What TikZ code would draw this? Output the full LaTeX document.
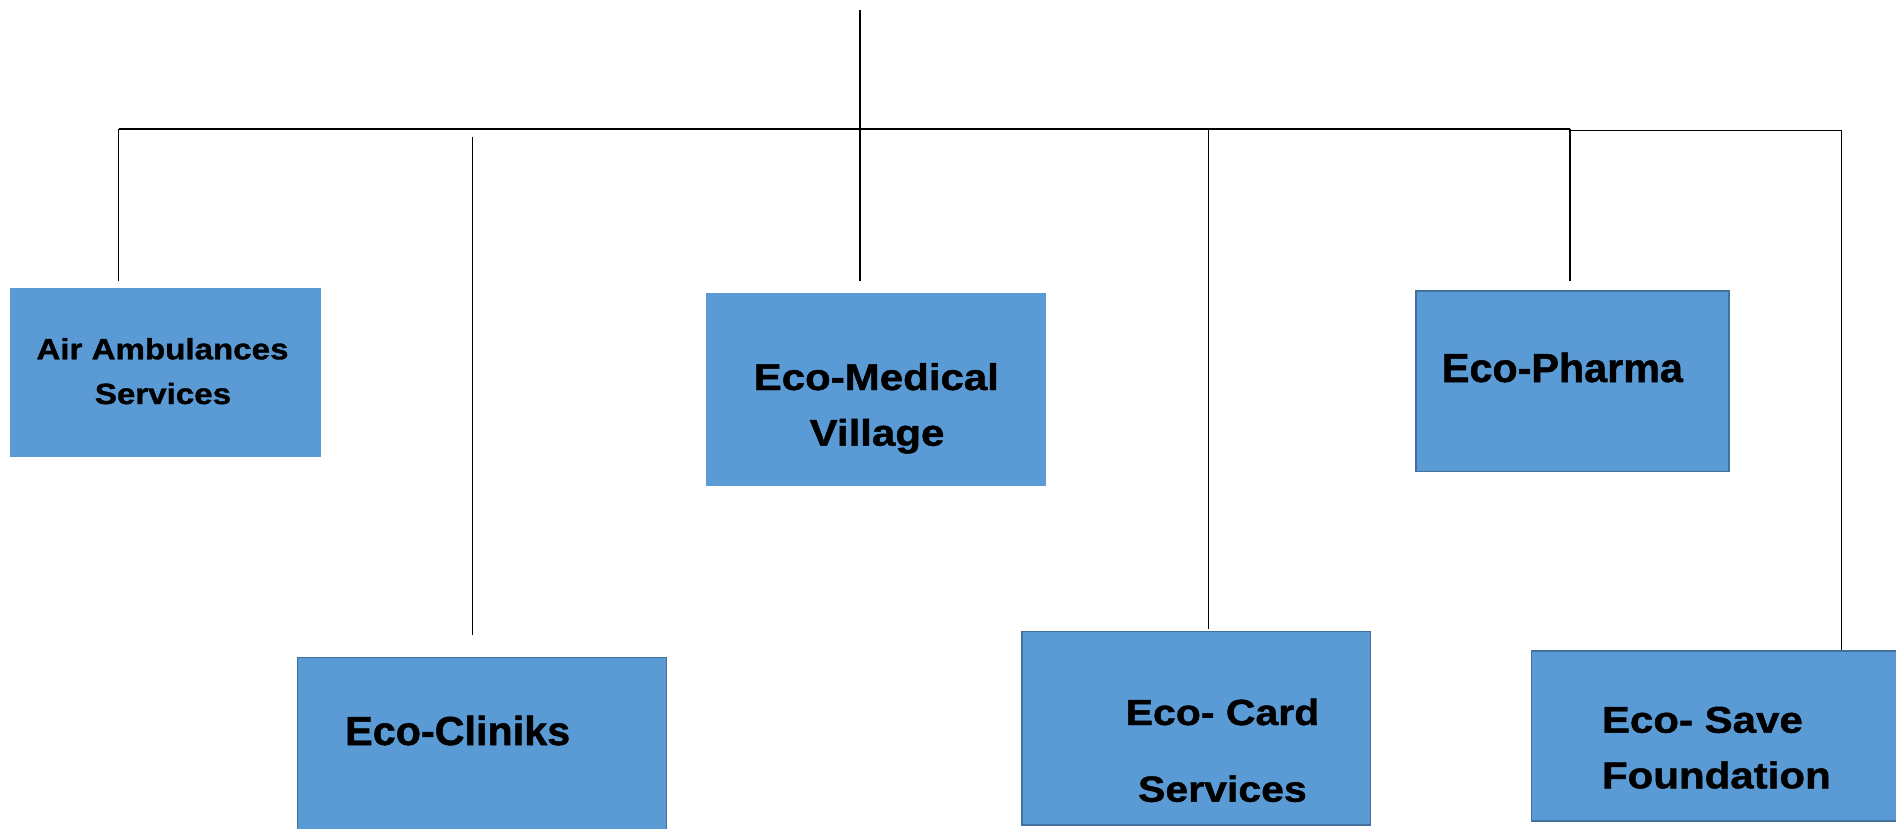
\documentclass[tikz,border=0pt]{standalone}
\usepackage{fontspec}
\setmainfont{Liberation Sans}
\newfontfamily\wfont[FakeStretch=1.13,BoldFeatures={FakeBold=1.2}]{Liberation Sans}
\newfontfamily\nfont[FakeStretch=1.02,BoldFeatures={FakeBold=1.2}]{Liberation Sans}
\definecolor{boxfill}{HTML}{5B9BD5}
\definecolor{boxline}{HTML}{41719C}
\begin{document}
\begin{tikzpicture}[x=1pt,y=-1pt,
  conn/.style={draw=black,line width=1.3pt},
  plainbox/.style={fill=boxfill,draw=none},
  edgebox/.style={fill=boxfill,draw=boxline,line width=1.5pt},
  lbl/.style={inner sep=0pt,anchor=base,text=black}]
\useasboundingbox (0,0) rectangle (1896,828);
% boxes
\node[plainbox,inner sep=0,minimum width=311pt,minimum height=169pt] (air) at (165.5,372.5) {};
\node[plainbox,inner sep=0,minimum width=340pt,minimum height=193.4pt] (med) at (876,389.3) {};
\node[edgebox,inner sep=0,minimum width=369pt,minimum height=185pt] (clin) at (482,750) {};
\node[edgebox,inner sep=0,minimum width=348.5pt,minimum height=193.5pt] (card) at (1196.3,728.3) {};
\node[edgebox,inner sep=0,minimum width=313pt,minimum height=180.7pt] (pharma) at (1572.5,381.3) {};
\node[edgebox,inner sep=0,minimum width=380pt,minimum height=170pt] (save) at (1721.5,736) {};
% texts
\node[lbl,font=\wfont\bfseries\fontsize{29.3}{32}\selectfont] (airT1) at (162.5,359.3) {Air Ambulances};
\node[lbl,font=\wfont\bfseries\fontsize{29.3}{32}\selectfont] (airT2) at (163,404) {Services};
\node[lbl,font=\nfont\bfseries\fontsize{40.5}{44}\selectfont,anchor=base west] (clinT) at (345,745) {Eco-Cliniks};
\node[lbl,font=\wfont\bfseries\fontsize{37.2}{40}\selectfont] (medT1) at (876.3,390) {Eco-Medical};
\node[lbl,font=\wfont\bfseries\fontsize{37.2}{40}\selectfont] (medT2) at (877,445.7) {Village};
\node[lbl,font=\nfont\bfseries\fontsize{40.5}{44}\selectfont,anchor=base west] (pharmaT) at (1441.7,382) {Eco-Pharma};
\node[lbl,font=\wfont\bfseries\fontsize{36.3}{40}\selectfont] (cardT1) at (1222.5,725) {Eco- Card};
\node[lbl,font=\wfont\bfseries\fontsize{36.3}{40}\selectfont] (cardT2) at (1222.4,801.7) {Services};
\node[lbl,font=\wfont\bfseries\fontsize{37.2}{40}\selectfont,anchor=base west] (saveT1) at (1601.7,732.7) {Eco- Save};
\node[lbl,font=\wfont\bfseries\fontsize{37.2}{40}\selectfont,anchor=base west] (saveT2) at (1601.7,788.3) {Foundation};
% connector coordinates
\coordinate (root) at (860,10);
\coordinate (j) at (860,129);
\coordinate (busL) at (118.5,129);
\coordinate (busM) at (1570,129);
\coordinate (busR) at (1841.5,130.5);
\coordinate (busM2) at (1570,130.5);
\coordinate (airTop) at (118.5,281);
\coordinate (clinA) at (472.8,136.6);
\coordinate (clinB) at (472.8,634.8);
\coordinate (medTop) at (860,281);
\coordinate (cardA) at (1208.5,129);
\coordinate (cardB) at (1208.5,629);
\coordinate (pharmaTop) at (1570,281);
% connectors
\draw[conn] (root) -- (j);
\draw[conn] (busL) -- (busM);
\draw[conn] (busM2) -- (busR);
\draw[conn] (busL) -- (airTop);
\draw[conn] (clinA) -- (clinB);
\draw[conn] (j) -- (medTop);
\draw[conn] (cardA) -- (cardB);
\draw[conn] (busM) -- (pharmaTop);
\draw[conn] (busR) -- (save.north -| busR);
\end{tikzpicture}
\end{document}
